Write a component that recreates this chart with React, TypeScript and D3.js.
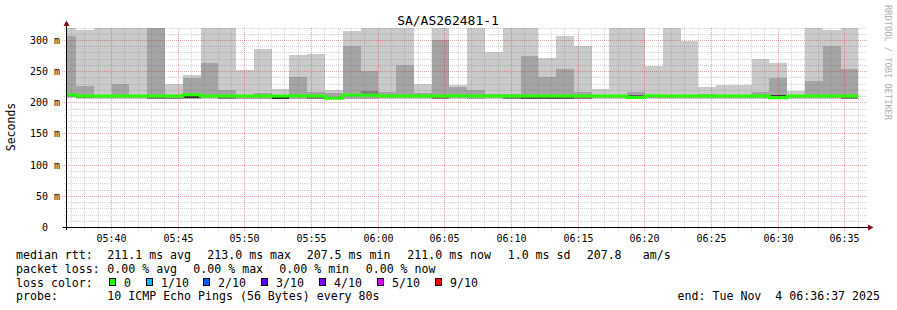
import React, { useEffect } from "react";
import * as d3 from "d3";

const W = 897;
const H = 310;

// ---- data (ms), one entry per 80 s probe step, oldest first ----
const medianRtt = [213.0, 211, 211, 211, 211, 211, 211, 213.0, 211, 211, 211, 211, 211, 211.5, 211, 207.5, 212.5, 212, 211, 211, 211, 211, 211.5, 211, 211, 211, 211, 211, 211, 211, 211, 211, 208.5, 211.5, 211, 211, 211, 211, 211, 211, 208.3, 211, 211, 211, 211];
const minRtt = [208.5, 206.5, 205.5, 205.5, 206.5, 206, 205.5, 205.5, 206, 205.5, 205.5, 205.5, 205.5, 205.5, 205.5, 205.5, 205.5, 205.5, 205.5, 206, 206.5, 206, 206, 205.5, 205.5, 205.5, 205.5, 205.5, 205.5, 205.5, 206.5, 206, 206, 206.5, 206, 206.5, 206, 206, 206, 206, 206, 206.5, 206.5, 206, 205.5];
const maxRtt = [350, 316.6, 350, 350, 350, 350, 230, 244.4, 350, 350, 251.9, 285.6, 222.5, 276, 279, 219.8, 316, 350, 350, 350, 231, 350, 229.4, 350, 280.8, 350, 350, 271.7, 308, 291, 222, 350, 350, 258.3, 350, 298.4, 224.6, 228.3, 228.3, 271, 264.7, 218.7, 350, 316.6, 350];
const p2Rtt = [209, 207, 207.5, 207.5, 208, 206.5, 206, 206, 207, 206, 206, 206, 206, 206.5, 206.5, 206, 206, 206.5, 207, 207, 207.5, 206.5, 207, 206.5, 207.5, 206, 206, 206, 206, 206, 207, 207, 206.5, 207, 207, 207.5, 207, 207.5, 207.5, 207, 206.5, 207, 207.5, 207, 206];
const p9Rtt = [307, 227.8, 212.5, 231, 212.5, 350, 212, 240, 264.7, 220, 212, 215, 212, 242, 218, 215, 291, 250.8, 216.6, 260, 215, 300.6, 224.6, 220, 213.5, 214, 275, 241, 253.5, 218, 213, 213, 216.6, 213, 213, 213, 214, 212, 212, 216.6, 240.6, 213, 235.8, 290.4, 253.5];
// inner (dense) smoke band, where it shows outside the median line
const denseLo = [null, 207, null, null, null, 206.5, 206, 207, null, 206.5, null, null, 206.5, null, 206.5, null, null, 211, null, null, null, 206.5, null, null, null, 206, 206, 206, 206, 206, null, null, 210.5, null, null, 207.3, null, null, null, null, 210.5, 207.3, null, null, 206];
const denseHi = [null, 209.5, null, null, null, 209, 208.5, 211, null, 209, null, null, 209, null, 209, null, null, 219.5, null, null, null, 209, null, null, null, 209, 209, 209, 209, 209, null, null, 212.5, null, null, 208.5, null, null, null, null, 212.5, 208.5, null, null, 209];
const denseLevel = [0, 1, 0, 0, 0, 1, 1, 3, 0, 1, 0, 0, 3, 0, 1, 0, 0, 1, 0, 0, 0, 1, 0, 0, 0, 1, 2, 2, 2, 1, 0, 0, 2, 0, 0, 3, 0, 0, 0, 0, 3, 3, 0, 0, 1];

const yTicks = [0, 50, 100, 150, 200, 250, 300];
const yTickLabels = ["0  ", "50 m", "100 m", "150 m", "200 m", "250 m", "300 m"];

const lossLabels = ["0", "1/10", "2/10", "3/10", "4/10", "5/10", "9/10"];
const lossColors = ["#26ff00", "#00b8ff", "#0059ff", "#5e00ff", "#7e00ff", "#dd00ff", "#ff0000"];

const title = "SA/AS262481-1";
const line1 = ["median rtt:", "211.1 ms avg", "213.0 ms max", "207.5 ms min", "211.0 ms now", "1.0 ms sd", "207.8", "am/s"];
const line2 = ["packet loss:", "0.00 % avg", "0.00 % max", "0.00 % min", "0.00 % now"];
const probeText = ["probe:", "10 ICMP Echo Pings (56 Bytes) every 80s"];
const endText = "end: Tue Nov\u00a0\u00a04 06:36:37 2025";

const tStart = Date.UTC(2025, 10, 4, 5, 36, 37);
const tEnd = Date.UTC(2025, 10, 4, 6, 36, 37);
const firstBoundary = Date.UTC(2025, 10, 4, 5, 37, 20);
const STEP = 80000;

// layout
const line1X = [16, 107.3, 207.3, 306.7, 407.3, 507.7, 586.7, 642.7];
const line2X = [16, 107.3, 193.3, 279.3, 365.7];
const boxX = [109, 146, 203, 261, 319, 377, 435];

const FONT = "'DejaVu Sans Mono', monospace";
const smokeColors = ["#cacaca", "#a4a4a4"];
const denseColors = ["", "#7e7e7e", "#585858", "#323232"];

export default function App() {
  useEffect(() => {
    document.body.style.margin = "0";
  }, []);

  const x = d3.scaleUtc().domain([tStart, tEnd]).range([66.5, 866.5]);
  const y = d3.scaleLinear().domain([0, 320]).range([227.5, 28.03]);
  const snap = (v: number) => Math.round(v - 0.5) + 0.5;

  const bars = medianRtt.map((m, i) => ({
    t0: firstBoundary + (i - 1) * STEP,
    t1: firstBoundary + i * STEP,
    i,
  }));

  const minorH = d3.range(0, 321, 10).filter((v) => v % 50 !== 0);
  const majorH = d3.range(0, 321, 50);
  const minorV = x.ticks(d3.utcMinute.every(1) as any).filter((d) => d.getUTCMinutes() % 5 !== 0);
  const majorV = x.ticks(d3.utcMinute.every(5) as any);
  const fmt = d3.utcFormat("%H:%M");

  const medPts = bars.map((b) => [b.t0, medianRtt[b.i]] as [number, number]);
  medPts.push([bars[bars.length - 1].t1, medianRtt[medianRtt.length - 1]]);
  const medPath = d3
    .line<[number, number]>()
    .x((d) => x(d[0]))
    .y((d) => y(d[1]))
    .curve(d3.curveStepAfter)(medPts) as string;

  const rect = (key: string, t0: number, t1: number, lo: number, hi: number, fill: string) => {
    const x0 = x(t0);
    const x1 = x(t1);
    const yt = y(hi);
    const yb = y(lo);
    return <rect key={key} x={x0} y={yt} width={x1 - x0} height={Math.max(0, yb - yt)} fill={fill} shapeRendering="crispEdges" />;
  };

  const gridMinor = "rgba(90,90,90,0.26)";
  const gridMajor = "rgba(200,30,30,0.40)";
  const pre = { whiteSpace: "pre" as const };

  return (
    <svg width={W} height={H} style={{ position: "absolute", left: 0, top: 0, background: "#fff" }} fontFamily={FONT}>
      <defs>
        <clipPath id="plot">
          <rect x={67} y={28} width={800} height={199.5} />
        </clipPath>
      </defs>
      <rect x={0} y={0} width={W} height={H} fill="#ffffff" />

      <g clipPath="url(#plot)">
        {bars.map((b) => rect("l" + b.i, b.t0, b.t1, minRtt[b.i], maxRtt[b.i], smokeColors[0]))}
        {bars.map((b) => rect("m" + b.i, b.t0, b.t1, p2Rtt[b.i], p9Rtt[b.i], smokeColors[1]))}
        {bars.map((b) =>
          denseLevel[b.i] > 0 && denseLo[b.i] != null
            ? rect("d" + b.i, b.t0, b.t1, denseLo[b.i] as number, denseHi[b.i] as number, denseColors[denseLevel[b.i]])
            : null
        )}
      </g>

      {/* grid */}
      <g strokeDasharray="1,1" strokeWidth={1} shapeRendering="crispEdges">
        {minorH.map((v) => (
          <line key={"mh" + v} x1={64} x2={868} y1={snap(y(v))} y2={snap(y(v))} stroke={gridMinor} />
        ))}
        {minorV.map((d) => (
          <line key={"mv" + +d} x1={snap(x(d))} x2={snap(x(d))} y1={28} y2={231} stroke={gridMinor} />
        ))}
        {majorH.map((v) => (
          <line key={"MH" + v} x1={62} x2={868} y1={snap(y(v))} y2={snap(y(v))} stroke={gridMajor} />
        ))}
        {majorV.map((d) => (
          <line key={"MV" + +d} x1={snap(x(d))} x2={snap(x(d))} y1={28} y2={231} stroke={gridMajor} />
        ))}
      </g>

      <g clipPath="url(#plot)">
        <path d={medPath} fill="none" stroke="#26ff00" strokeWidth={3} />
      </g>

      {/* axes */}
      <line x1={63} x2={868} y1={227.5} y2={227.5} stroke="#000" shapeRendering="crispEdges" />
      <line x1={66.5} x2={66.5} y1={230} y2={25} stroke="#000" shapeRendering="crispEdges" />
      <path d="M63.5,26 L69.5,26 L66.5,20.5 Z" fill="#7f1010" />
      <path d="M868,224.5 L868,230.5 L873.5,227.5 Z" fill="#7f1010" />

      {/* y tick labels */}
      <g fontSize={10} textAnchor="end" fill="#000">
        {yTicks.map((v, i) => (
          <text key={v} x={60} y={snap(y(v)) + 3.5} style={pre}>
            {yTickLabels[i]}
          </text>
        ))}
      </g>

      {/* x tick labels */}
      <g fontSize={10} textAnchor="middle" fill="#000">
        {majorV.map((d) => (
          <text key={+d} x={snap(x(d))} y={241.5}>
            {fmt(d)}
          </text>
        ))}
      </g>

      {/* titles */}
      <text x={448} y={25} fontSize={13} textAnchor="middle" fill="#000">
        {title}
      </text>
      <text transform="translate(15,127) rotate(-90)" fontSize={11.5} textAnchor="middle" fill="#000">
        Seconds
      </text>
      <text transform="translate(885,5) rotate(90)" fontSize={8.7} fill="#b0b0b0">
        RRDTOOL / TOBI OETIKER
      </text>

      {/* legend */}
      <g fontSize={11.6} fill="#000">
        {line1.map((s, i) => (
          <text key={"a" + i} x={line1X[i]} y={258.5} style={pre}>
            {s}
          </text>
        ))}
        {line2.map((s, i) => (
          <text key={"b" + i} x={line2X[i]} y={272.5} style={pre}>
            {s}
          </text>
        ))}
        <text x={16} y={286.5}>
          loss color:
        </text>
        {lossLabels.map((s, i) => (
          <g key={"c" + i}>
            <rect x={boxX[i] + 0.5} y={278.5} width={6} height={7} fill={lossColors[i]} stroke="#000" strokeWidth={1} shapeRendering="crispEdges" />
            <text x={boxX[i] + 15} y={286.5}>
              {s}
            </text>
          </g>
        ))}
        <text x={16} y={300}>
          {probeText[0]}
        </text>
        <text x={107.3} y={300}>
          {probeText[1]}
        </text>
        <text x={880} y={300} textAnchor="end" style={pre}>
          {endText}
        </text>
      </g>
    </svg>
  );
}
